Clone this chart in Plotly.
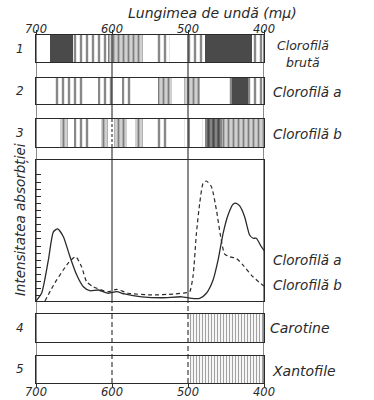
import plotly.graph_objects as go

# ---------------- data ----------------
wl_ticks = [700, 600, 500, 400]
wl_labels = ["700", "600", "500", "400"]

# absorption bands: start / end wavelength (mμ) and kind of absorption
band1_start = [681, 651, 605, 543, 504, 478, 416]
band1_end = [651, 605, 559, 524, 478, 416, 401]
band1_kind = ["strong", "weak", "faint", "weak", "weak", "strong", "weak"]

band2_start = [678, 618, 587, 540, 505, 449, 442, 421]
band2_end = [638, 599, 574, 521, 484, 442, 421, 401]
band2_kind = ["weak", "weak", "weak", "faint", "faint", "weak", "strong", "weak"]

band3_start = [668, 650, 614, 597, 570, 543, 505, 482, 478, 455]
band3_end = [658, 628, 605, 580, 559, 526, 497, 478, 455, 401]
band3_kind = ["faint", "weak", "faint", "faint", "faint", "weak", "weak", "weak", "medium", "faint"]

band4_start = [500]
band4_end = [401]
band4_kind = ["fine"]

band5_start = [497]
band5_end = [401]
band5_kind = ["fine"]

# absorption curves (relative intensity)
chla_wl = [700, 692.5, 683.7, 677.1, 671.5, 664, 655.3, 646.4, 637.7, 629.1, 618, 604.9,
           594, 583.5, 560.9, 534.7, 508.4, 495.3, 484.6, 475.8, 467, 460.4, 453.8, 447.3,
           440.7, 436.3, 432, 425.5, 418.9, 414.4, 410.1, 403.5, 396.9, 391.3]
chla_abs = [0, 0.057, 0.291, 0.491, 0.511, 0.456, 0.314, 0.184, 0.101, 0.073, 0.078, 0.055,
            0.066, 0.050, 0.030, 0.023, 0.030, 0.019, 0.019, 0.055, 0.149, 0.291, 0.480, 0.610,
            0.686, 0.693, 0.674, 0.598, 0.468, 0.445, 0.445, 0.385, 0.338, 0.303]

chlb_wl = [688.2, 675, 657.4, 647.9, 640, 633.4, 624.6, 604.9, 594, 578.6, 548, 517.8, 502,
           497.7, 493.3, 488.9, 484.6, 480.1, 475.8, 469.2, 462.6, 457, 451.7, 445.2, 436.3,
           427.6, 416.7, 405.8, 400]
chlb_abs = [0, 0.13, 0.27, 0.314, 0.243, 0.137, 0.101, 0.066, 0.083, 0.055, 0.043, 0.050, 0.059,
            0.066, 0.18, 0.482, 0.693, 0.835, 0.851, 0.811, 0.645, 0.456, 0.333, 0.314, 0.302,
            0.255, 0.184, 0.130, 0.106]

# ---------------- styles ----------------
INK = "#2a2a2a"
FONT = "DejaVu Sans"
kind_style = {
    "strong": dict(color="#4a4a4a", pattern=dict(shape="")),
    "weak": dict(color="white", pattern=dict(shape="|", fgcolor="#111111", bgcolor="white", size=6, solidity=0.4)),
    "faint": dict(color="#bdbdbd", pattern=dict(shape="|", fgcolor="#2a2a2a", bgcolor="#d0d0d0", size=5, solidity=0.35)),
    "medium": dict(color="#7a7a7a", pattern=dict(shape="|", fgcolor="#111111", bgcolor="#858585", size=5, solidity=0.45)),
    "fine": dict(color="white", pattern=dict(shape="|", fgcolor="#444444", bgcolor="white", size=3, solidity=0.4)),
}

bands = [
    (band1_start, band1_end, band1_kind),
    (band2_start, band2_end, band2_kind),
    (band3_start, band3_end, band3_kind),
    None,
    (band4_start, band4_end, band4_kind),
    (band5_start, band5_end, band5_kind),
]
domains = [[0.9224, 1.0], [0.8017, 0.8764], [0.6782, 0.7586],
           [0.2356, 0.6408], [0.1178, 0.1983], [0.0, 0.0776]]

fig = go.Figure()

for i, b in enumerate(bands):
    if b is None:
        continue
    n = i + 1
    st, en, kd = b
    for k in kind_style:
        idx = [j for j in range(len(st)) if kd[j] == k]
        if not idx:
            continue
        fig.add_trace(go.Bar(
            y=[0] * len(idx), base=[st[j] for j in idx], x=[en[j] - st[j] for j in idx],
            orientation="h", width=1,
            marker=dict(color=kind_style[k]["color"], pattern=kind_style[k]["pattern"], line=dict(width=0)),
            xaxis="x" if n == 1 else f"x{n}", yaxis="y" if n == 1 else f"y{n}",
            showlegend=False, hoverinfo="skip"))

fig.add_trace(go.Scatter(x=chla_wl, y=chla_abs, mode="lines", line=dict(color=INK, width=1.3, shape="spline", smoothing=0.6),
                         xaxis="x4", yaxis="y4", cliponaxis=False, showlegend=False))
fig.add_trace(go.Scatter(x=chlb_wl, y=chlb_abs, mode="lines", line=dict(color=INK, width=1.2, dash="4px,3px", shape="spline", smoothing=0.6),
                         xaxis="x4", yaxis="y4", cliponaxis=False, showlegend=False))

layout = dict(
    width=374, height=400, autosize=False, margin=dict(l=36, r=110, t=35, b=17),
    paper_bgcolor="white", plot_bgcolor="white", bargap=0, barmode="overlay",
    font=dict(family=FONT, color=INK, style="italic"),
)
for i in range(6):
    n = i + 1
    xa = dict(range=[700, 400], domain=[0, 1], anchor="y" if n == 1 else f"y{n}",
              showline=True, mirror=True, linecolor=INK, linewidth=1.1,
              showgrid=False, zeroline=False, showticklabels=False, ticks="",
              tickvals=wl_ticks)
    if n > 1:
        xa["matches"] = "x"
    if n == 1:
        xa.update(side="top", ticks="outside", ticklen=4, tickcolor=INK)
    if n == 6:
        xa.update(side="bottom", ticks="outside", ticklen=3, tickcolor=INK)
    ya = dict(domain=domains[i], anchor="x" if n == 1 else f"x{n}", range=[-0.5, 0.5],
              showline=True, mirror=True, linecolor=INK, linewidth=1.1,
              showgrid=False, zeroline=False, showticklabels=False, ticks="", fixedrange=True)
    if n == 4:
        ya.update(range=[0, 1], ticks="inside", ticklen=5, tickcolor=INK, tickwidth=1,
                  tickvals=[0.036 + 0.0505 * k for k in range(18)])
    layout["xaxis" if n == 1 else f"xaxis{n}"] = xa
    layout["yaxis" if n == 1 else f"yaxis{n}"] = ya

shapes = []
def vline(x, y0, y1, dash="solid"):
    shapes.append(dict(type="line", xref="x", yref="paper", x0=x, x1=x, y0=y0, y1=y1,
                       line=dict(color=INK, width=1.1, dash=dash)))
vline(wl_ticks[0], 0, 1)
vline(wl_ticks[3], 0, 1)
vline(wl_ticks[1], 0.7586, 1)
vline(wl_ticks[1], 0.6782, 0.7586, "3px,2px")
vline(wl_ticks[1], 0.2356, 0.6782)
vline(wl_ticks[1], 0, 0.2356, "5px,3px")
vline(wl_ticks[2], 0.2356, 1)
vline(wl_ticks[2], 0, 0.2356, "5px,3px")
layout["shapes"] = shapes

ann = []
def txt(text, x, y, yref="paper", xanchor="left", size=13.5, angle=0, xref="paper"):
    ann.append(dict(text=text, x=x, y=y, xref=xref, yref=yref, xanchor=xanchor, yanchor="middle",
                    showarrow=False, textangle=angle, font=dict(size=size, family=FONT, style="italic", color=INK)))

# wavelength tick labels (top and bottom)
for v, lab in zip(wl_ticks, wl_labels):
    txt(lab, v, 1.017, xanchor="center", size=11.5, xref="x")
    txt(lab, v, -0.027, xanchor="center", size=11.5, xref="x")

txt("Lungimea de undă (mμ)", 0.772, 1.062, xanchor="center", size=14)
for n, lab in zip([1, 2, 3, 5, 6], ["1", "2", "3", "4", "5"]):
    txt(lab, -0.068, 0.5, yref="y domain" if n == 1 else f"y{n} domain", xanchor="center", size=12)
txt("Intensitatea absorbției", -0.07, 0.574, yref="y4 domain", xanchor="center", size=13.5, angle=-90)
txt("Clorofilă", 1.171, 0.6, yref="y domain", xanchor="center", size=12.5)
txt("brută", 1.171, 0.0, yref="y domain", xanchor="center", size=12.5)
txt("Clorofilă a", 1.03, 0.46, yref="y2 domain")
txt("Clorofilă b", 1.03, 0.46, yref="y3 domain")
txt("Clorofilă a", 1.03, 0.29, yref="y4")
txt("Clorofilă b", 1.03, 0.113, yref="y4")
txt("Carotine", 1.017, 0.5, yref="y5 domain", size=14)
txt("Xantofile", 1.026, 0.45, yref="y6 domain", size=14)
layout["annotations"] = ann

fig.update_layout(layout)
fig.write_html("out.html", config={"displayModeBar": False, "responsive": False},
               post_script="document.body.style.margin='0';")
